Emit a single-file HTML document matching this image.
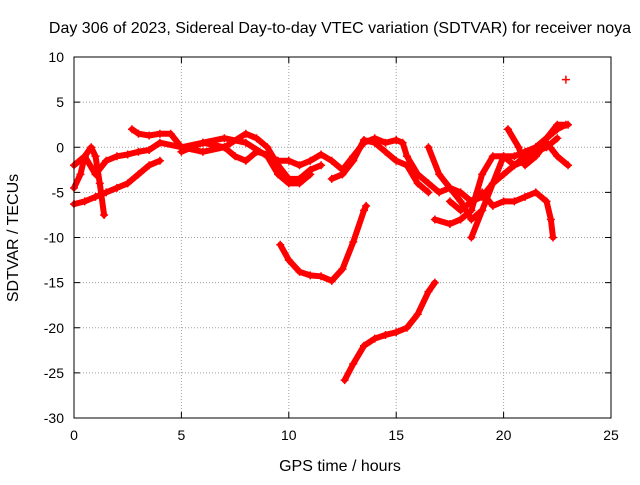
<!DOCTYPE html>
<html><head><meta charset="utf-8"><style>
body{margin:0;background:#fff;}
svg text{font-family:"Liberation Sans",sans-serif;fill:#000;}
</style></head><body>
<svg id="chart" width="640" height="480" xmlns="http://www.w3.org/2000/svg">
<rect width="640" height="480" fill="#fff"/>
<text x="340" y="33" font-size="16" text-anchor="middle">Day 306 of 2023, Sidereal Day-to-day VTEC variation (SDTVAR) for receiver noya</text>
<text x="340" y="471" font-size="16" text-anchor="middle">GPS time / hours</text>
<text transform="translate(18,238) rotate(-90)" font-size="16" text-anchor="middle">SDTVAR / TECUs</text>
<g id="grid"></g><g id="marks"></g>
<rect x="74" y="57" width="537" height="361" fill="none" stroke="#000" stroke-width="1"/>
</svg>
<script>
const xTicks=[0,5,10,15,20,25];
const yTicks=[10,5,0,-5,-10,-15,-20,-25,-30];
const track1=[[0,-6.3],[0.5,-6],[1,-5.5],[1.5,-5],[2,-4.5],[2.5,-4],[3,-3],[3.5,-2],[4,-1.5]];
const track2=[[0,-4.5],[0.3,-3],[0.5,-1],[0.8,0],[1,-1],[1.2,-4],[1.4,-7.5]];
const track3=[[0,-2],[0.5,-1],[1,-3],[1.5,-1.5],[2,-1],[2.5,-0.8],[3,-0.5],[3.5,-0.3],[4,0.5],[5,0],[6,0.5],[7,1],[8,0.5],[9,-1],[9.5,-3],[10,-4],[10.5,-4],[11,-3]];
const track4=[[2.7,2],[3,1.5],[3.5,1.3],[4,1.5],[4.5,1.5],[5,0],[6,-0.5],[7,0],[8,1.5],[8.5,1],[9,0],[9.5,-2],[10,-3.5],[10.5,-3.5],[11,-2.5],[11.5,-2]];
const track5=[[5,-0.5],[6,0.5],[7,0],[7.5,-1],[8,-1.5],[8.5,-0.5],[9,-0.8],[9.5,-1.5],[10,-1.5],[10.5,-2],[11,-1.5],[11.5,-0.8],[12,-1.5],[12.5,-2.5],[13,-1],[13.5,0.5],[14,1],[14.5,0.5],[15,0.8],[15.3,0.5],[15.5,-1],[16,-3],[16.5,-4],[17,-5],[17.5,-4.5],[18,-6],[18.5,-8],[19,-7]];
const track6=[[12,-3.5],[12.5,-3],[13,-1.5],[13.5,0.8],[14,0.5],[14.5,-0.5],[15,-1.5],[15.5,-2],[16,-4],[16.5,-5]];
const track7=[[9.6,-10.8],[10,-12.5],[10.5,-13.8],[11,-14.2],[11.5,-14.3],[12,-14.8],[12.5,-13.5],[13,-10.5],[13.5,-7],[13.6,-6.5]];
const track8=[[12.6,-25.8],[13,-24],[13.5,-22],[14,-21.2],[14.5,-20.8],[15,-20.5],[15.5,-20],[16,-18.5],[16.5,-16],[16.8,-15]];
const track9=[[16.5,0],[17,-3],[17.5,-4.5],[18,-5],[18.5,-6],[19,-5.5],[19.5,-4],[20,-3],[20.5,-2],[21,-1],[21.5,-0.5],[22,0],[22.5,1]];
const track10=[[16.8,-8],[17.5,-8.5],[18,-8],[18.5,-7],[19,-3],[19.5,-1],[20,-1],[20.5,-1],[21,-0.5],[21.5,0],[22,1],[22.5,2],[22.9,2.5]];
const track11=[[17.5,-6],[18,-7],[18.5,-6],[19,-5],[19.5,-6.5],[20,-6],[20.5,-6],[21,-5.5],[21.5,-5],[22,-6],[22.2,-8],[22.3,-10]];
const track12=[[18.5,-10],[19,-7],[19.5,-4],[20,-1],[20.5,-2],[21,-1.5],[21.5,0],[22,1],[22.5,2.5],[23,2.5]];
const track13=[[20.2,2],[20.7,0],[21,-2],[21.5,-1],[22,0.5],[22.5,-1],[23,-2]];
const track14=[[22.9,7.5]];
const tracks=[track1,track2,track3,track4,track5,track6,track7,track8,track9,track10,track11,track12,track13,track14];

const NS="http://www.w3.org/2000/svg";
const X0=74,X1=611,Y0=418,Y1=57;
function xs(v){return X0+(v-0)/(25-0)*(X1-X0);}
function ys(v){return Y0-(v-(-30))/(10-(-30))*(Y0-Y1);}
const grid=document.getElementById('grid'),marks=document.getElementById('marks');
function mk(tag,attrs,parent){const e=document.createElementNS(NS,tag);for(const k in attrs)e.setAttribute(k,attrs[k]);parent.appendChild(e);return e;}
xTicks.forEach(t=>{
  const x=xs(t);
  if(t>0&&t<25){const g=mk('line',{x1:x,x2:x,y1:Y1,y2:Y0,stroke:'#a0a0a0','stroke-dasharray':'1,2'},grid);
  
  }
  mk('line',{x1:x,x2:x,y1:Y0,y2:Y0-6,stroke:'#000'},grid);
  mk('line',{x1:x,x2:x,y1:Y1,y2:Y1+6,stroke:'#000'},grid);
  const l=mk('text',{x:x,y:Y0+22,'font-size':14,'text-anchor':'middle'},grid);l.textContent=t;
  
  
});
yTicks.forEach(t=>{
  const y=ys(t);
  if(t<10&&t>-30){const g=mk('line',{x1:X0,x2:X1,y1:y,y2:y,stroke:'#a0a0a0','stroke-dasharray':'1,2'},grid);
  
  }
  mk('line',{x1:X0,x2:X0+6,y1:y,y2:y,stroke:'#000'},grid);
  mk('line',{x1:X1,x2:X1-6,y1:y,y2:y,stroke:'#000'},grid);
  const l=mk('text',{x:X0-10,y:y+5,'font-size':14,'text-anchor':'end'},grid);l.textContent=t;
  
  
});
tracks.forEach((tr,i)=>{
  const g=mk('g',{},marks);
  
  
  if(tr.length>1){
    mk('polyline',{points:tr.map(p=>xs(p[0])+','+ys(p[1])).join(' '),fill:'none',stroke:'#f00','stroke-width':6,'stroke-linejoin':'round','stroke-linecap':'round'},g);
  }
  tr.forEach(p=>{
    const x=xs(p[0]),y=ys(p[1]);
    mk('path',{d:`M${x-4},${y}H${x+4}M${x},${y-4}V${y+4}`,stroke:'#f00','stroke-width':1.5},g);
  });
});
</script>
</body></html>
